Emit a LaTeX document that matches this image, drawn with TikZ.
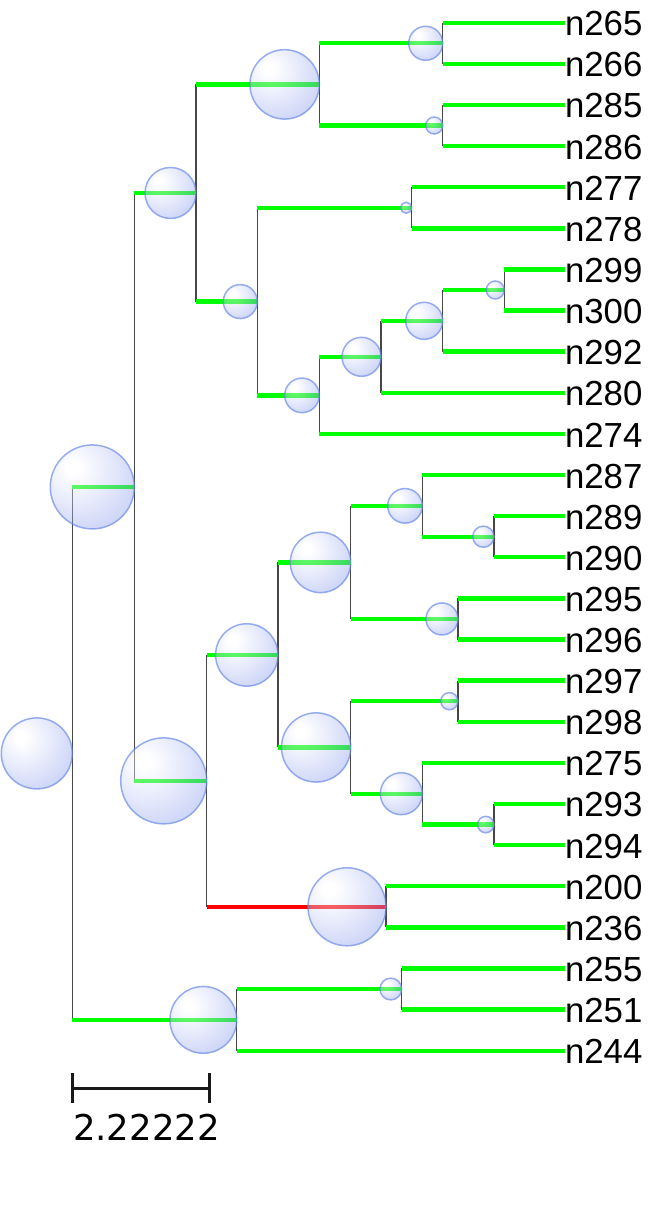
\documentclass[tikz,border=0pt]{standalone}
\usepackage{fontspec}
\setmainfont{Liberation Sans}
\newfontfamily\scalefnt{DejaVu Sans}
\definecolor{brgreen}{RGB}{0,255,0}
\definecolor{brred}{RGB}{255,0,0}
\definecolor{bubC}{RGB}{80,108,228}
\definecolor{bubB}{RGB}{100,132,232}
\pgfdeclareradialshading{bubshade}{\pgfpoint{-12bp}{12bp}}{color(0bp)=(white); color(4bp)=(white); color(36bp)=(bubC!72!white); color(54bp)=(bubC); color(100bp)=(bubC)}
\newcommand{\mybub}[2]{\node[bubble, minimum size={2*#2pt}, anchor=east] (b#1) at (#1) {};}
\begin{document}
\begin{tikzpicture}[x=1pt,y=-1pt,
  vline/.style={draw=black!72, line width=1.1pt},
  branch/.style={draw=brgreen, line width=4.4pt},
  redbranch/.style={draw=brred, line width=4.4pt},
  bubble/.style={circle, inner sep=0pt, outer sep=0pt, shade, shading=bubshade, fill opacity=0.4, draw=bubB, draw opacity=0.65, line width=1.5pt},
  leaflabel/.style={anchor=west, inner sep=0pt, outer sep=0pt, font=\fontsize{34.8}{40}\selectfont, yshift=-1pt},
  scalebar/.style={draw=black!90, line width=2.6pt},
  scalelabel/.style={font=\scalefnt\fontsize{35.5}{42}\selectfont, inner sep=0pt}]
\useasboundingbox (0,0) rectangle (648,1211);

% leaves
\foreach \n [count=\i from 0] in {265,266,285,286,277,278,299,300,292,280,274,287,289,290,295,296,297,298,275,293,294,200,236,255,251,244} {
  \coordinate (p\n) at (565, {22.7+41.12*\i});
}

% internal nodes
\coordinate (a1) at (442.7,43.26);
\coordinate (a2) at (442.7,125.5);
\coordinate (A)  at (319.3,84.38);
\coordinate (b1) at (411.7,207.74);
\coordinate (c1) at (504.3,289.98);
\coordinate (c2) at (442.7,320.82);
\coordinate (c3) at (381,356.8);
\coordinate (c4) at (319.3,395.35);
\coordinate (b2) at (257.3,301.55);
\coordinate (B)  at (196,192.97);
\coordinate (d1) at (494,536.7);
\coordinate (d2) at (422.3,505.86);
\coordinate (d3) at (458,618.94);
\coordinate (D)  at (350.7,562.4);
\coordinate (e1) at (458,701.18);
\coordinate (e2) at (494,824.54);
\coordinate (e3) at (422.3,793.7);
\coordinate (E)  at (350.7,747.44);
\coordinate (F)  at (278,654.92);
\coordinate (g1) at (386,906.78);
\coordinate (G)  at (206.7,780.85);
\coordinate (H)  at (134.3,486.91);
\coordinate (i1) at (401.7,989.02);
\coordinate (I)  at (236.7,1019.86);
\coordinate (R)  at (72.3,753.39);

\def\edges{A/a1, A/a2, B/A, B/b2, b2/b1, b2/c4, c4/c3, c4/p274, c3/c2, c3/p280, c2/c1, c2/p292, c1/p299, c1/p300, b1/p277, b1/p278, a1/p265, a1/p266, a2/p285, a2/p286, H/B, H/G, G/F, F/D, F/E, D/d2, D/d3, d2/p287, d2/d1, d1/p289, d1/p290, d3/p295, d3/p296, E/e1, E/e3, e1/p297, e1/p298, e3/p275, e3/e2, e2/p293, e2/p294, g1/p200, g1/p236, R/H, R/I, I/i1, I/p244, i1/p255, i1/p251}

% vertical connectors
\foreach \p/\c in \edges { \draw[vline] (\p) -- (\p |- \c); }
\draw[vline] (G) -- (G |- g1);
% horizontal branches
\foreach \p/\c in \edges { \draw[branch] (\p |- \c) -- (\c); }
\draw[redbranch] (G |- g1) -- (g1);

% bubbles
\mybub{a1}{17}
\mybub{a2}{8.5}
\mybub{A}{34.7}
\mybub{b1}{5.5}
\mybub{c1}{9}
\mybub{c2}{18.5}
\mybub{c3}{19.5}
\mybub{c4}{17.3}
\mybub{b2}{17}
\mybub{B}{25.5}
\mybub{d1}{10.6}
\mybub{d2}{17.3}
\mybub{d3}{16}
\mybub{D}{30.2}
\mybub{e1}{8.6}
\mybub{e2}{8.2}
\mybub{e3}{21}
\mybub{E}{34.6}
\mybub{F}{31.2}
\mybub{g1}{39}
\mybub{G}{43}
\mybub{H}{42}
\mybub{i1}{10.9}
\mybub{I}{33.4}
\mybub{R}{35.5}

% labels
\foreach \n in {265,266,285,286,277,278,299,300,292,280,274,287,289,290,295,296,297,298,275,293,294,200,236,255,251,244} {
  \node[leaflabel] (n\n) at (p\n) {n\n};
}

% scale bar
\coordinate (sb1) at (72.3,1088.3);
\coordinate (sb2) at (209.7,1088.3);
\draw[scalebar] (sb1) -- (sb2);
\draw[scalebar] ([yshift=15pt]sb1) -- ([yshift=-15pt]sb1);
\draw[scalebar] ([yshift=15pt]sb2) -- ([yshift=-15pt]sb2);
\node[scalelabel] (sblabel) at (146.5,1127) {2.22222};
\end{tikzpicture}
\end{document}
